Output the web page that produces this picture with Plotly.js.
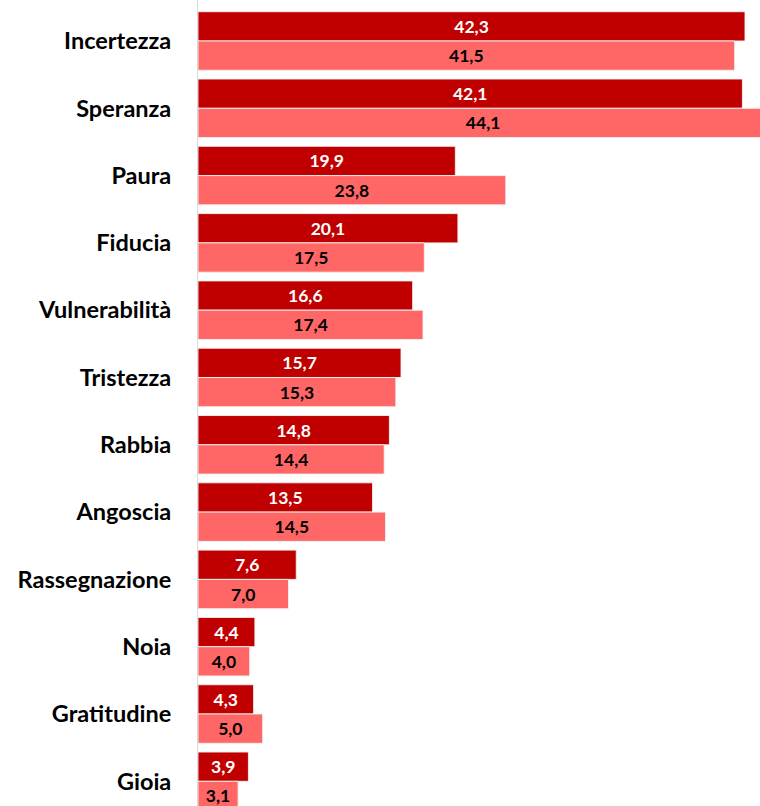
<!DOCTYPE html>
<html>
<head>
<meta charset="utf-8">
<script src="https://cdn.plot.ly/plotly-3.0.1.min.js"></script>
<style>html,body{margin:0;padding:0;background:#fff;}#chart{width:760px;height:806px;}</style>
</head>
<body>
<div id="chart"></div>
<script>
const categories = ["Incertezza","Speranza","Paura","Fiducia","Vulnerabilità","Tristezza","Rabbia","Angoscia","Rassegnazione","Noia","Gratitudine","Gioia"];
const seriesDark = [42.3, 42.1, 19.9, 20.1, 16.6, 15.7, 14.8, 13.5, 7.6, 4.4, 4.3, 3.9];
const seriesLight = [41.5, 44.1, 23.8, 17.5, 17.4, 15.3, 14.4, 14.5, 7.0, 4.0, 5.0, 3.1];

const fmt = v => v.toFixed(1).replace('.', ',');
const FONT = "Lato, 'Open Sans', sans-serif";

const traces = [
  {
    type: 'bar', orientation: 'h', y: categories, x: seriesDark,
    text: seriesDark.map(fmt), textposition: 'inside', insidetextanchor: 'middle',
    textangle: 0, constraintext: 'none',
    textfont: {family: FONT, size: 17.5, color: '#ffffff', weight: 700},
    marker: {color: '#C00000', line: {color: 'rgba(242,242,242,0.9)', width: 1}},
    hoverinfo: 'none', cliponaxis: true
  },
  {
    type: 'bar', orientation: 'h', y: categories, x: seriesLight,
    text: seriesLight.map(fmt), textposition: 'inside', insidetextanchor: 'middle',
    textangle: 0, constraintext: 'none',
    textfont: {family: FONT, size: 17.5, color: '#000000', weight: 700},
    marker: {color: '#FF6666', line: {color: 'rgba(242,242,242,0.9)', width: 1}},
    hoverinfo: 'none', cliponaxis: true
  }
];

const layout = {
  width: 760, height: 806,
  margin: {l: 198, r: 0, t: 0, b: 0, pad: 0},
  paper_bgcolor: '#ffffff', plot_bgcolor: '#ffffff',
  showlegend: false,
  barmode: 'group', bargap: 0.13, bargroupgap: 0,
  xaxis: {range: [0, 43.46], visible: false, showgrid: false, zeroline: false, fixedrange: true},
  yaxis: {
    type: 'category', range: [11.367, -0.609],
    showline: true, linecolor: '#d9d9d9', linewidth: 1,
    ticks: '', showgrid: false, zeroline: false,
    ticklabelstandoff: 21,
    tickfont: {family: FONT, size: 23.5, color: '#000000', weight: 700},
    fixedrange: true
  },
  uniformtext: {mode: false}
};

Plotly.newPlot('chart', traces, layout, {displayModeBar: false, staticPlot: true});
</script>
</body>
</html>
